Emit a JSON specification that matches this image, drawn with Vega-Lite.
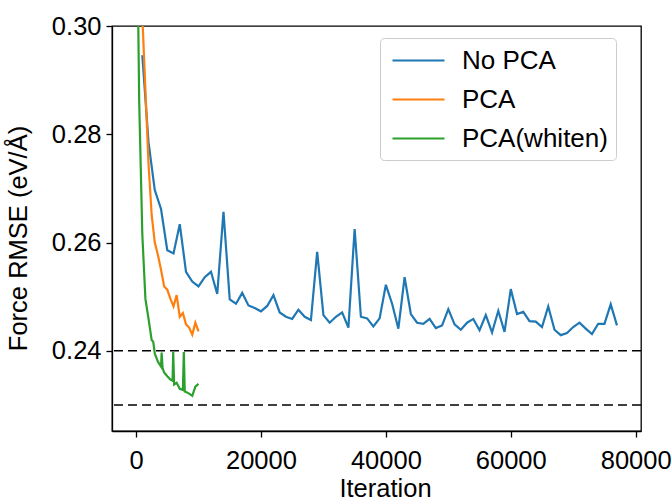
{
  "$schema": "https://vega.github.io/schema/vega-lite/v6.json",
  "width": 529,
  "height": 405,
  "autosize": "none",
  "padding": {"left": 112, "top": 26, "right": 31, "bottom": 73},
  "background": "white",
  "config": {
    "font": "Liberation Sans",
    "view": {"stroke": "black", "strokeWidth": 1.3},
    "axis": {
      "domainColor": "black", "domainWidth": 1.3, "tickColor": "black", "tickWidth": 1.3, "tickSize": 6,
      "labelFont": "Liberation Sans", "labelFontSize": 25.5, "labelColor": "black", "labelPadding": 5,
      "titleFont": "Liberation Sans", "titleFontSize": 25.5, "titleFontWeight": "normal", "titleColor": "black",
      "grid": false
    },
    "legend": {
      "labelFont": "Liberation Sans", "labelFontSize": 26, "labelColor": "black"
    }
  },
  "datasets": {
    "runs": [
      {"method": "No PCA", "iteration": 1000, "rmse": 0.2946},
      {"method": "No PCA", "iteration": 2000, "rmse": 0.2785},
      {"method": "No PCA", "iteration": 3000, "rmse": 0.2697},
      {"method": "No PCA", "iteration": 4000, "rmse": 0.2662},
      {"method": "No PCA", "iteration": 5000, "rmse": 0.2586},
      {"method": "No PCA", "iteration": 6000, "rmse": 0.2580},
      {"method": "No PCA", "iteration": 7000, "rmse": 0.2634},
      {"method": "No PCA", "iteration": 8000, "rmse": 0.2546},
      {"method": "No PCA", "iteration": 9000, "rmse": 0.2528},
      {"method": "No PCA", "iteration": 10000, "rmse": 0.2519},
      {"method": "No PCA", "iteration": 11000, "rmse": 0.2536},
      {"method": "No PCA", "iteration": 12000, "rmse": 0.2546},
      {"method": "No PCA", "iteration": 13000, "rmse": 0.2505},
      {"method": "No PCA", "iteration": 14000, "rmse": 0.2657},
      {"method": "No PCA", "iteration": 15000, "rmse": 0.2495},
      {"method": "No PCA", "iteration": 16000, "rmse": 0.2487},
      {"method": "No PCA", "iteration": 17000, "rmse": 0.2507},
      {"method": "No PCA", "iteration": 18000, "rmse": 0.2484},
      {"method": "No PCA", "iteration": 19000, "rmse": 0.2479},
      {"method": "No PCA", "iteration": 20000, "rmse": 0.2473},
      {"method": "No PCA", "iteration": 21000, "rmse": 0.2483},
      {"method": "No PCA", "iteration": 22000, "rmse": 0.2503},
      {"method": "No PCA", "iteration": 23000, "rmse": 0.2471},
      {"method": "No PCA", "iteration": 24000, "rmse": 0.2463},
      {"method": "No PCA", "iteration": 25000, "rmse": 0.2459},
      {"method": "No PCA", "iteration": 26000, "rmse": 0.2476},
      {"method": "No PCA", "iteration": 27000, "rmse": 0.2463},
      {"method": "No PCA", "iteration": 28000, "rmse": 0.2457},
      {"method": "No PCA", "iteration": 29000, "rmse": 0.2583},
      {"method": "No PCA", "iteration": 30000, "rmse": 0.2466},
      {"method": "No PCA", "iteration": 31000, "rmse": 0.2452},
      {"method": "No PCA", "iteration": 32000, "rmse": 0.2463},
      {"method": "No PCA", "iteration": 33000, "rmse": 0.2471},
      {"method": "No PCA", "iteration": 34000, "rmse": 0.2443},
      {"method": "No PCA", "iteration": 35000, "rmse": 0.2625},
      {"method": "No PCA", "iteration": 36000, "rmse": 0.2463},
      {"method": "No PCA", "iteration": 37000, "rmse": 0.2460},
      {"method": "No PCA", "iteration": 38000, "rmse": 0.2445},
      {"method": "No PCA", "iteration": 39000, "rmse": 0.2460},
      {"method": "No PCA", "iteration": 40000, "rmse": 0.2522},
      {"method": "No PCA", "iteration": 41000, "rmse": 0.2487},
      {"method": "No PCA", "iteration": 42000, "rmse": 0.2441},
      {"method": "No PCA", "iteration": 43000, "rmse": 0.2536},
      {"method": "No PCA", "iteration": 44000, "rmse": 0.2468},
      {"method": "No PCA", "iteration": 45000, "rmse": 0.2452},
      {"method": "No PCA", "iteration": 46000, "rmse": 0.2450},
      {"method": "No PCA", "iteration": 47000, "rmse": 0.2459},
      {"method": "No PCA", "iteration": 48000, "rmse": 0.2442},
      {"method": "No PCA", "iteration": 49000, "rmse": 0.2447},
      {"method": "No PCA", "iteration": 50000, "rmse": 0.2477},
      {"method": "No PCA", "iteration": 51000, "rmse": 0.2449},
      {"method": "No PCA", "iteration": 52000, "rmse": 0.2439},
      {"method": "No PCA", "iteration": 53000, "rmse": 0.2452},
      {"method": "No PCA", "iteration": 54000, "rmse": 0.2459},
      {"method": "No PCA", "iteration": 55000, "rmse": 0.2438},
      {"method": "No PCA", "iteration": 56000, "rmse": 0.2466},
      {"method": "No PCA", "iteration": 57000, "rmse": 0.2434},
      {"method": "No PCA", "iteration": 58000, "rmse": 0.2474},
      {"method": "No PCA", "iteration": 59000, "rmse": 0.2435},
      {"method": "No PCA", "iteration": 60000, "rmse": 0.2514},
      {"method": "No PCA", "iteration": 61000, "rmse": 0.2468},
      {"method": "No PCA", "iteration": 62000, "rmse": 0.2472},
      {"method": "No PCA", "iteration": 63000, "rmse": 0.2455},
      {"method": "No PCA", "iteration": 64000, "rmse": 0.2454},
      {"method": "No PCA", "iteration": 65000, "rmse": 0.2444},
      {"method": "No PCA", "iteration": 66000, "rmse": 0.2482},
      {"method": "No PCA", "iteration": 67000, "rmse": 0.2439},
      {"method": "No PCA", "iteration": 68000, "rmse": 0.2429},
      {"method": "No PCA", "iteration": 69000, "rmse": 0.2433},
      {"method": "No PCA", "iteration": 70000, "rmse": 0.2444},
      {"method": "No PCA", "iteration": 71000, "rmse": 0.2452},
      {"method": "No PCA", "iteration": 72000, "rmse": 0.2441},
      {"method": "No PCA", "iteration": 73000, "rmse": 0.2431},
      {"method": "No PCA", "iteration": 74000, "rmse": 0.2450},
      {"method": "No PCA", "iteration": 75000, "rmse": 0.2450},
      {"method": "No PCA", "iteration": 76000, "rmse": 0.2486},
      {"method": "No PCA", "iteration": 77000, "rmse": 0.2447},
      {"method": "PCA", "iteration": 0, "rmse": 0.40},
      {"method": "PCA", "iteration": 500, "rmse": 0.33},
      {"method": "PCA", "iteration": 1000, "rmse": 0.302},
      {"method": "PCA", "iteration": 1500, "rmse": 0.2882},
      {"method": "PCA", "iteration": 2000, "rmse": 0.2745},
      {"method": "PCA", "iteration": 2500, "rmse": 0.2651},
      {"method": "PCA", "iteration": 3000, "rmse": 0.2600},
      {"method": "PCA", "iteration": 3500, "rmse": 0.2577},
      {"method": "PCA", "iteration": 4000, "rmse": 0.2550},
      {"method": "PCA", "iteration": 4500, "rmse": 0.2519},
      {"method": "PCA", "iteration": 5000, "rmse": 0.2513},
      {"method": "PCA", "iteration": 5500, "rmse": 0.2496},
      {"method": "PCA", "iteration": 6000, "rmse": 0.2482},
      {"method": "PCA", "iteration": 6500, "rmse": 0.2503},
      {"method": "PCA", "iteration": 7000, "rmse": 0.2463},
      {"method": "PCA", "iteration": 7500, "rmse": 0.2470},
      {"method": "PCA", "iteration": 8000, "rmse": 0.2449},
      {"method": "PCA", "iteration": 8500, "rmse": 0.2443},
      {"method": "PCA", "iteration": 9000, "rmse": 0.2430},
      {"method": "PCA", "iteration": 9500, "rmse": 0.2452},
      {"method": "PCA", "iteration": 10000, "rmse": 0.2436},
      {"method": "PCA(whiten)", "iteration": 0, "rmse": 0.335},
      {"method": "PCA(whiten)", "iteration": 500, "rmse": 0.2863},
      {"method": "PCA(whiten)", "iteration": 1000, "rmse": 0.2616},
      {"method": "PCA(whiten)", "iteration": 1500, "rmse": 0.2496},
      {"method": "PCA(whiten)", "iteration": 2000, "rmse": 0.2459},
      {"method": "PCA(whiten)", "iteration": 2500, "rmse": 0.2420},
      {"method": "PCA(whiten)", "iteration": 2750, "rmse": 0.2417},
      {"method": "PCA(whiten)", "iteration": 3000, "rmse": 0.2395},
      {"method": "PCA(whiten)", "iteration": 3500, "rmse": 0.2380},
      {"method": "PCA(whiten)", "iteration": 4000, "rmse": 0.2371},
      {"method": "PCA(whiten)", "iteration": 4100, "rmse": 0.2397},
      {"method": "PCA(whiten)", "iteration": 4250, "rmse": 0.2368},
      {"method": "PCA(whiten)", "iteration": 4500, "rmse": 0.2360},
      {"method": "PCA(whiten)", "iteration": 5000, "rmse": 0.2353},
      {"method": "PCA(whiten)", "iteration": 5500, "rmse": 0.2347},
      {"method": "PCA(whiten)", "iteration": 5850, "rmse": 0.2345},
      {"method": "PCA(whiten)", "iteration": 5950, "rmse": 0.2398},
      {"method": "PCA(whiten)", "iteration": 6100, "rmse": 0.2338},
      {"method": "PCA(whiten)", "iteration": 6500, "rmse": 0.2341},
      {"method": "PCA(whiten)", "iteration": 7000, "rmse": 0.2330},
      {"method": "PCA(whiten)", "iteration": 7500, "rmse": 0.2328},
      {"method": "PCA(whiten)", "iteration": 7650, "rmse": 0.2398},
      {"method": "PCA(whiten)", "iteration": 7800, "rmse": 0.2325},
      {"method": "PCA(whiten)", "iteration": 8000, "rmse": 0.2324},
      {"method": "PCA(whiten)", "iteration": 8500, "rmse": 0.2321},
      {"method": "PCA(whiten)", "iteration": 9000, "rmse": 0.2317},
      {"method": "PCA(whiten)", "iteration": 9500, "rmse": 0.2334},
      {"method": "PCA(whiten)", "iteration": 10000, "rmse": 0.2339}
    ],
    "refs": [{"ref": 0.24}, {"ref": 0.23}]
  },
  "layer": [
    {
      "data": {"name": "refs"},
      "mark": {"type": "rule", "color": "black", "strokeWidth": 1.5, "strokeDash": [9, 5]},
      "encoding": {
        "y": {"field": "ref", "type": "quantitative", "scale": {"domain": [0.2252, 0.30], "nice": false, "zero": false}}
      }
    },
    {
      "data": {"name": "runs"},
      "mark": {"type": "line", "strokeWidth": 2.2, "clip": true},
      "encoding": {
        "x": {
          "field": "iteration", "type": "quantitative",
          "scale": {"domain": [-3850, 80850], "nice": false, "zero": false},
          "axis": {"values": [0, 20000, 40000, 60000, 80000], "format": "d", "title": "Iteration", "labelPadding": 11, "titlePadding": 3, "titleX": 273}
        },
        "y": {
          "field": "rmse", "type": "quantitative",
          "scale": {"domain": [0.2252, 0.30], "nice": false, "zero": false},
          "axis": {"values": [0.24, 0.26, 0.28, 0.30], "format": ".2f", "title": "Force RMSE (eV/Å)", "titlePadding": 20, "titleY": 212}
        },
        "color": {
          "field": "method", "type": "nominal",
          "scale": {"domain": ["No PCA", "PCA", "PCA(whiten)"], "range": ["#1f77b4", "#ff7f0e", "#2ca02c"]},
          "legend": {
            "title": null, "orient": "none", "legendX": 268, "legendY": 12,
            "symbolType": "M-1,0H3", "symbolSize": 676, "symbolStrokeWidth": 2.2, "symbolOffset": 3,
            "labelOffset": 42, "rowPadding": 11, "padding": 8,
            "strokeColor": "#cccccc", "fillColor": "rgba(255,255,255,0.8)", "cornerRadius": 4
          }
        }
      }
    }
  ]
}
